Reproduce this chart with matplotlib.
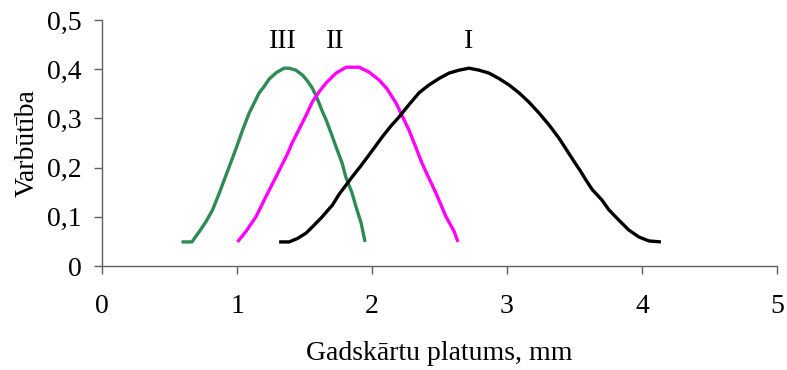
import matplotlib
matplotlib.use("Agg")
import matplotlib.pyplot as plt
from matplotlib.ticker import FuncFormatter

# curve III (green)
x3 = [0.587, 0.664, 0.719, 0.768, 0.817, 0.867, 0.904, 0.941, 0.993, 1.041, 1.089,
      1.163, 1.200, 1.237, 1.290, 1.348, 1.385, 1.435, 1.484, 1.521, 1.556, 1.583,
      1.607, 1.630, 1.659, 1.696, 1.733, 1.778, 1.805, 1.852, 1.880, 1.919, 1.948]
y3 = [0.049, 0.049, 0.070, 0.090, 0.114, 0.148, 0.175, 0.202, 0.240, 0.277, 0.311,
      0.352, 0.365, 0.380, 0.393, 0.402, 0.402, 0.398, 0.388, 0.376, 0.362, 0.347,
      0.331, 0.315, 0.297, 0.270, 0.242, 0.209, 0.181, 0.148, 0.121, 0.087, 0.049]

# curve II (magenta)
x2 = [1.002, 1.064, 1.139, 1.213, 1.287, 1.373, 1.407, 1.459, 1.519, 1.556, 1.607,
      1.659, 1.733, 1.807, 1.904, 1.978, 2.052, 2.111, 2.178, 2.225, 2.274, 2.323,
      2.370, 2.422, 2.474, 2.548, 2.607, 2.637]
y2 = [0.049, 0.070, 0.100, 0.141, 0.181, 0.228, 0.250, 0.278, 0.311, 0.333, 0.354,
      0.372, 0.392, 0.404, 0.404, 0.394, 0.378, 0.360, 0.331, 0.304, 0.276, 0.242,
      0.209, 0.178, 0.148, 0.100, 0.071, 0.049]

# curve I (black)
x1 = [1.311, 1.385, 1.447, 1.511, 1.570, 1.630, 1.706, 1.756, 1.852, 1.915, 1.978,
      2.074, 2.138, 2.200, 2.274, 2.348, 2.422, 2.496, 2.570, 2.644, 2.719, 2.793,
      2.867, 2.941, 3.015, 3.089, 3.163, 3.237, 3.311, 3.385, 3.437, 3.496, 3.540,
      3.585, 3.630, 3.704, 3.756, 3.830, 3.904, 3.978, 4.052, 4.141]
y1 = [0.049, 0.049, 0.056, 0.067, 0.083, 0.100, 0.124, 0.146, 0.181, 0.203, 0.226,
      0.262, 0.284, 0.303, 0.328, 0.352, 0.368, 0.381, 0.392, 0.398, 0.402, 0.398,
      0.392, 0.381, 0.368, 0.352, 0.333, 0.311, 0.287, 0.260, 0.238, 0.213, 0.195,
      0.175, 0.156, 0.134, 0.114, 0.093, 0.073, 0.059, 0.051, 0.049]

labels = ["III", "II", "I"]
label_x = [1.337, 1.73, 2.715]
label_y = 0.443

plt.rcParams['font.family'] = ['Liberation Serif', 'DejaVu Serif']
fs = 20

fig = plt.figure(figsize=(7.87, 3.70), dpi=100)
ax = fig.add_axes([0.130, 0.281, 0.857, 0.665])

ax.plot(x3, y3, color='#2E8B57', lw=2.4, solid_capstyle='butt', solid_joinstyle='round')
ax.plot(x2, y2, color='#FF00FF', lw=2.4, solid_capstyle='butt', solid_joinstyle='round')
ax.plot(x1, y1, color='black', lw=2.4, solid_capstyle='butt', solid_joinstyle='round')

for t, lx in zip(labels, label_x):
    ax.text(lx, label_y, t, ha='center', va='baseline', fontsize=fs)

ax.set_xlim(0, 5)
ax.set_ylim(0, 0.5)
ax.set_xticks([0, 1, 2, 3, 4, 5])
ax.set_yticks([0, 0.1, 0.2, 0.3, 0.4, 0.5])
ax.yaxis.set_major_formatter(FuncFormatter(lambda v, p: '0' if v == 0 else f'{v:.1f}'.replace('.', ',')))

for s in ['top', 'right']:
    ax.spines[s].set_visible(False)
for s in ['left', 'bottom']:
    ax.spines[s].set_color('#606060')
    ax.spines[s].set_linewidth(1.0)
ax.tick_params(colors='#606060', labelcolor='black', labelsize=fs, length=6, width=1.0)
ax.tick_params(axis='x', pad=14)
ax.tick_params(axis='y', pad=9)

ax.set_xlabel('Gadskārtu platums, mm', fontsize=fs, labelpad=16)
ax.set_ylabel('Varbūtība', fontsize=fs, labelpad=5)

fig.savefig('out.png', dpi=100)
